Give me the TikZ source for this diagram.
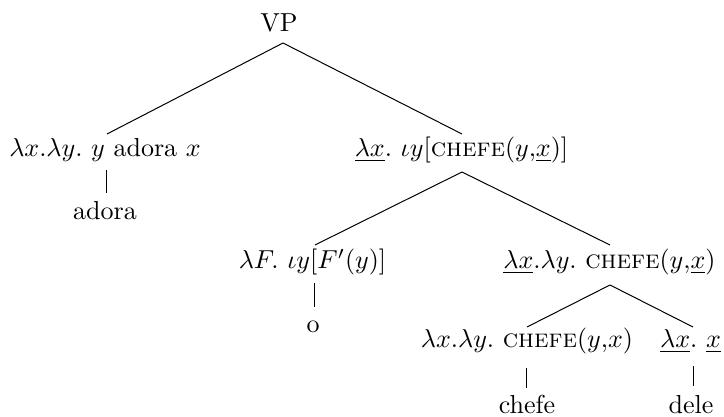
\documentclass[tikz,border=0pt]{standalone}
\tikzset{
  lbl/.style={anchor=base, inner sep=0pt, font=\normalsize, scale=1.3, transform shape},
  edge/.style={draw=black, line width=0.5pt}
}
\begin{document}
\begin{tikzpicture}[x=0.5pt, y=-0.5pt]
\useasboundingbox (0,0) rectangle (724,417);
% nodes
\node[lbl] (VP) at (279,32) {VP};
\node[lbl] (A) at (105,157) {$\lambda x.\lambda y.\ y$ adora $x$};
\node[lbl] (B) at (461.5,157) {$\underline{\lambda x}.\ \iota y[$\textsc{chefe}$(y{,}\underline{x})]$};
\node[lbl] (adora) at (105,220) {adora};
\node[lbl] (C) at (312.5,269) {$\lambda F.\ \iota y[F'(y)]$};
\node[lbl] (o) at (313,333) {o};
\node[lbl] (D) at (609.5,269) {$\underline{\lambda x}.\lambda y.$ \textsc{chefe}$(y{,}\underline{x})$};
\node[lbl] (E) at (527,348) {$\lambda x.\lambda y.$ \textsc{chefe}$(y{,}x)$};
\node[lbl] (F) at (690.5,348) {$\underline{\lambda x}.\ \underline{x}$};
\node[lbl] (chefe) at (527,414) {chefe};
\node[lbl] (dele) at (691,414) {dele};
% attachment points
\coordinate (VPd) at (283,43);
\coordinate (Au) at (107,134);
\coordinate (Bu) at (462,134);
\coordinate (Ad) at (106,170);
\coordinate (adorau) at (106,193);
\coordinate (Bd) at (462,172);
\coordinate (Cu) at (315,245);
\coordinate (Du) at (610,245);
\coordinate (Cd) at (314,283);
\coordinate (ou) at (314,307);
\coordinate (Dd) at (610,285);
\coordinate (Eu) at (527,327);
\coordinate (Fu) at (693,327);
\coordinate (Ed) at (526,368);
\coordinate (chefeu) at (526,388);
\coordinate (Fd) at (693,366);
\coordinate (deleu) at (693,386);
% edges
\path[edge] (VPd) -- (Au);
\path[edge] (VPd) -- (Bu);
\path[edge] (Ad) -- (adorau);
\path[edge] (Bd) -- (Cu);
\path[edge] (Bd) -- (Du);
\path[edge] (Cd) -- (ou);
\path[edge] (Dd) -- (Eu);
\path[edge] (Dd) -- (Fu);
\path[edge] (Ed) -- (chefeu);
\path[edge] (Fd) -- (deleu);
\end{tikzpicture}
\end{document}
